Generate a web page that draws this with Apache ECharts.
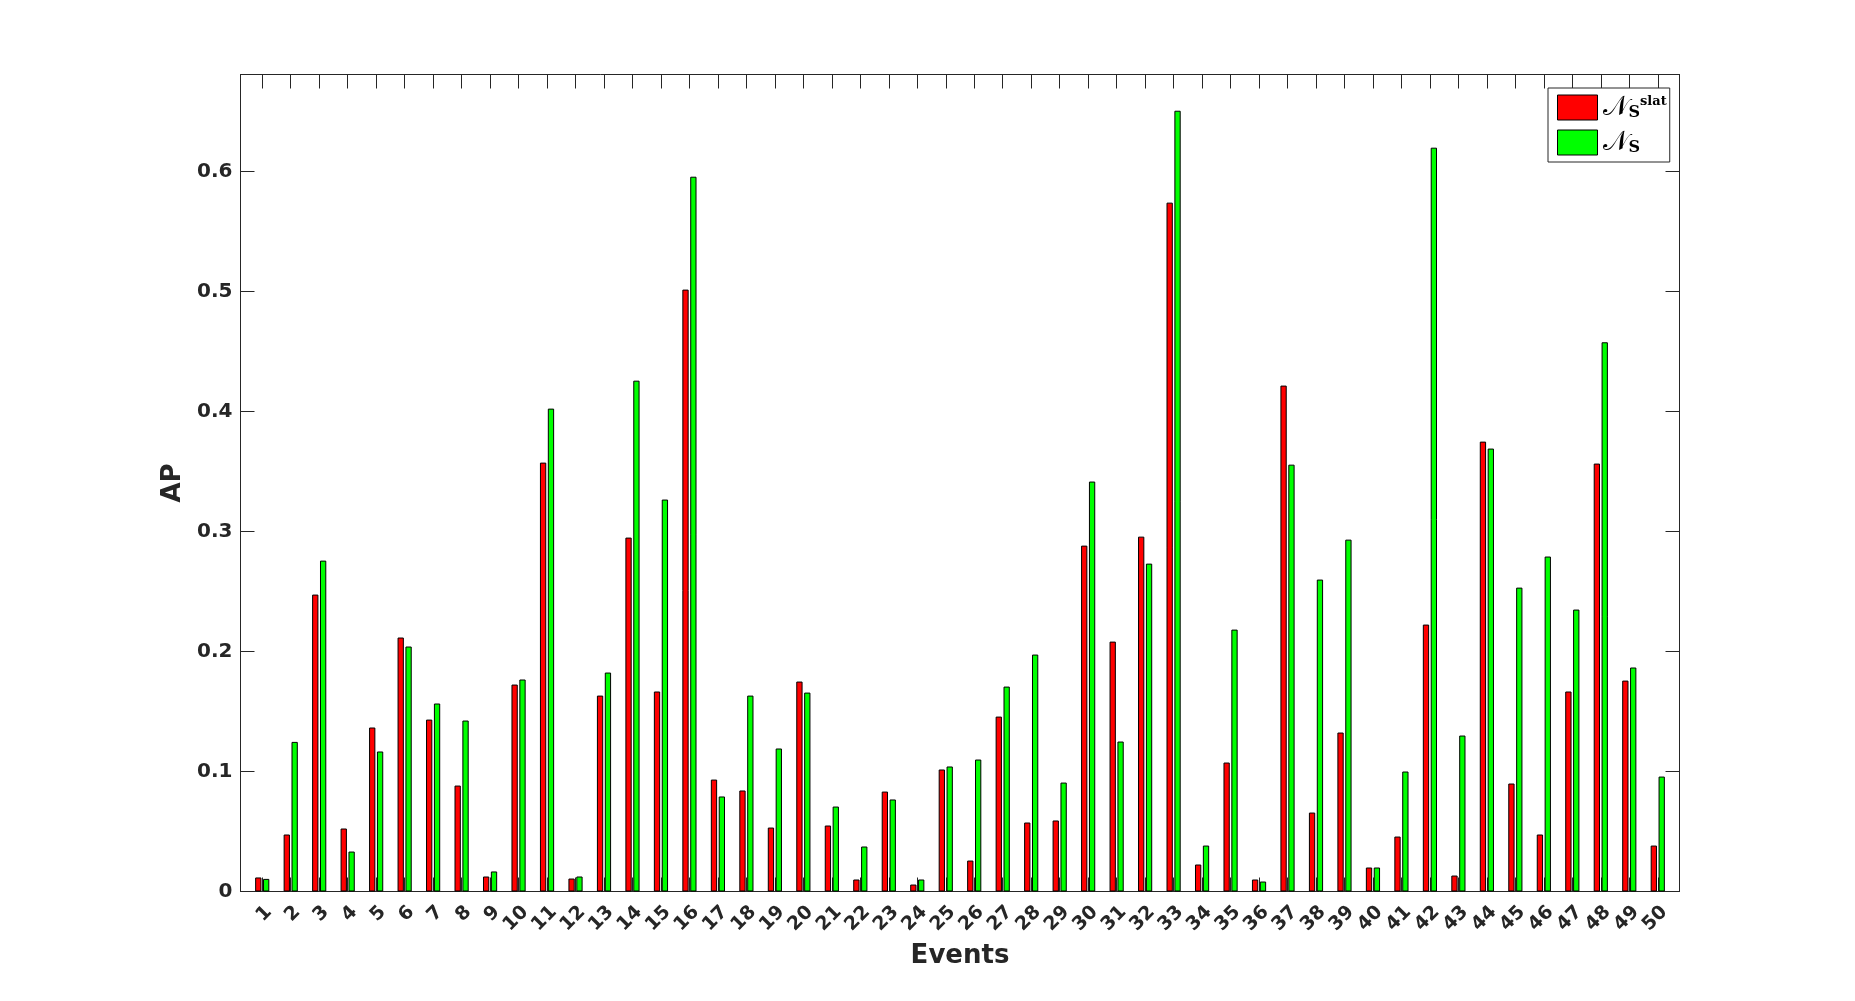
<!DOCTYPE html>
<html>
<head>
<meta charset="utf-8">
<script src="https://cdn.jsdelivr.net/npm/echarts@6/dist/echarts.min.js"></script>
<style>
html,body{margin:0;padding:0;background:#fff;}
#chart{width:1855px;height:1001px;}
</style>
</head>
<body>
<div id="chart"></div>
<script>
var events = [];
for (var i = 1; i <= 50; i++) events.push(String(i));

var apSlat = [0.0117,0.0475,0.2475,0.0525,0.1367,0.2117,0.1433,0.0883,0.0125,0.1725,
  0.3575,0.0108,0.1633,0.2950,0.1667,0.5017,0.0933,0.0842,0.0533,0.1750,
  0.0550,0.0100,0.0833,0.0058,0.1017,0.0258,0.1458,0.0575,0.0592,0.2883,
  0.2083,0.2958,0.5742,0.0225,0.1075,0.0100,0.4217,0.0658,0.1325,0.0200,
  0.0458,0.2225,0.0133,0.3750,0.0900,0.0475,0.1667,0.3567,0.1758,0.0383];

var apS = [0.0105,0.1247,0.2758,0.0333,0.1167,0.2042,0.1567,0.1425,0.0167,0.1767,
  0.4025,0.0125,0.1825,0.4258,0.3267,0.5958,0.0792,0.1633,0.1192,0.1658,
  0.0708,0.0375,0.0767,0.0100,0.1042,0.1100,0.1708,0.1975,0.0908,0.3417,
  0.1250,0.2733,0.6508,0.0383,0.2183,0.0083,0.3558,0.2600,0.2933,0.0200,
  0.1000,0.6200,0.1300,0.3692,0.2533,0.2792,0.2350,0.4578,0.1867,0.0958];

var yMin = 0, yMax = 0.681, yStep = 0.1;
var seriesNames = ['NS_slat', 'NS'];

var txt = '#262626';
var font = 'DejaVu Sans';

var chart = echarts.init(document.getElementById('chart'), null, {renderer: 'canvas'});

function yLabel(v) {
  var k = v / yStep;
  if (Math.abs(k - Math.round(k)) > 1e-6) return '';
  return v === 0 ? '0' : v.toFixed(1);
}

var option = {
  backgroundColor: '#ffffff',
  animation: false,
  grid: [
    {left: 248, top: 74.5, width: 1424, height: 817, show: false, containLabel: false},
    {left: 240.5, top: 74.5, width: 1439, height: 817, show: true, borderColor: txt, borderWidth: 1, backgroundColor: 'transparent', containLabel: false}
  ],
  legend: {
    data: seriesNames,
    orient: 'vertical',
    left: 1548,
    top: 88,
    padding: [6, 3, 6, 9],
    itemWidth: 40,
    itemHeight: 25,
    itemGap: 8,
    backgroundColor: '#ffffff',
    borderColor: txt,
    borderWidth: 1,
    borderRadius: 0,
    icon: 'rect',
    itemStyle: {borderColor: '#000', borderWidth: 1},
    formatter: function (name) {
      return name === 'NS_slat' ? '{n|𝒩}{s|S}{p|slat}' : '{n|𝒩}{s|S}';
    },
    textStyle: {
      color: '#000',
      rich: {
        n: {fontFamily: 'DejaVu Serif', fontSize: 27, color: '#000'},
        s: {fontFamily: 'DejaVu Serif', fontSize: 16, fontWeight: 'bold', color: '#000', padding: [11, 0, 0, 0]},
        p: {fontFamily: 'DejaVu Serif', fontSize: 13, fontWeight: 'bold', color: '#000', padding: [0, 0, 11, 0]}
      }
    }
  },
  xAxis: [
    {
      type: 'category', gridIndex: 0, position: 'bottom', data: events,
      boundaryGap: true,
      axisLine: {show: false},
      axisTick: {show: true, inside: true, length: 14, alignWithLabel: true, lineStyle: {color: txt, width: 1}},
      axisLabel: {show: true, rotate: 45, margin: 11, verticalAlign: 'top', interval: 0,
        color: txt, fontFamily: font, fontWeight: 'bold', fontSize: 19},
      splitLine: {show: false},
      name: 'Events', nameLocation: 'middle', nameGap: 52,
      nameTextStyle: {color: txt, fontFamily: font, fontWeight: 'bold', fontSize: 26}
    },
    {
      type: 'category', gridIndex: 0, position: 'top', data: events,
      boundaryGap: true,
      axisLine: {show: false},
      axisTick: {show: true, inside: true, length: 14, alignWithLabel: true, lineStyle: {color: txt, width: 1}},
      axisLabel: {show: false},
      splitLine: {show: false}
    },
    {
      type: 'value', gridIndex: 1, min: 0, max: 1, show: false
    }
  ],
  yAxis: [
    {type: 'value', gridIndex: 0, min: yMin, max: yMax, show: false, splitLine: {show: false}},
    {
      type: 'value', gridIndex: 1, position: 'left', min: yMin, max: yMax, interval: yStep,
      axisLine: {show: true, lineStyle: {color: txt, width: 1}},
      axisTick: {show: true, inside: true, length: 14, lineStyle: {color: txt, width: 1}},
      axisLabel: {show: true, margin: 8, color: txt, fontFamily: font, fontWeight: 'bold', fontSize: 20,
        formatter: yLabel, showMaxLabel: true, showMinLabel: true},
      splitLine: {show: false},
      name: 'AP', nameLocation: 'middle', nameGap: 49,
      nameTextStyle: {color: txt, fontFamily: font, fontWeight: 'bold', fontSize: 26}
    },
    {
      type: 'value', gridIndex: 1, position: 'right', min: yMin, max: yMax, interval: yStep,
      axisLine: {show: true, lineStyle: {color: txt, width: 1}},
      axisTick: {show: true, inside: true, length: 14, lineStyle: {color: txt, width: 1}},
      axisLabel: {show: false},
      splitLine: {show: false}
    }
  ],
  series: [
    {
      name: seriesNames[0], type: 'bar', xAxisIndex: 0, yAxisIndex: 0,
      data: apSlat, barWidth: 6.3, barGap: '25%',
      itemStyle: {color: '#ff0000', borderColor: '#000000', borderWidth: 1},
      z: 3
    },
    {
      name: seriesNames[1], type: 'bar', xAxisIndex: 0, yAxisIndex: 0,
      data: apS, barWidth: 6.3, barGap: '25%',
      itemStyle: {color: '#00ff00', borderColor: '#000000', borderWidth: 1},
      z: 3
    }
  ]
};
chart.setOption(option);
</script>
</body>
</html>
